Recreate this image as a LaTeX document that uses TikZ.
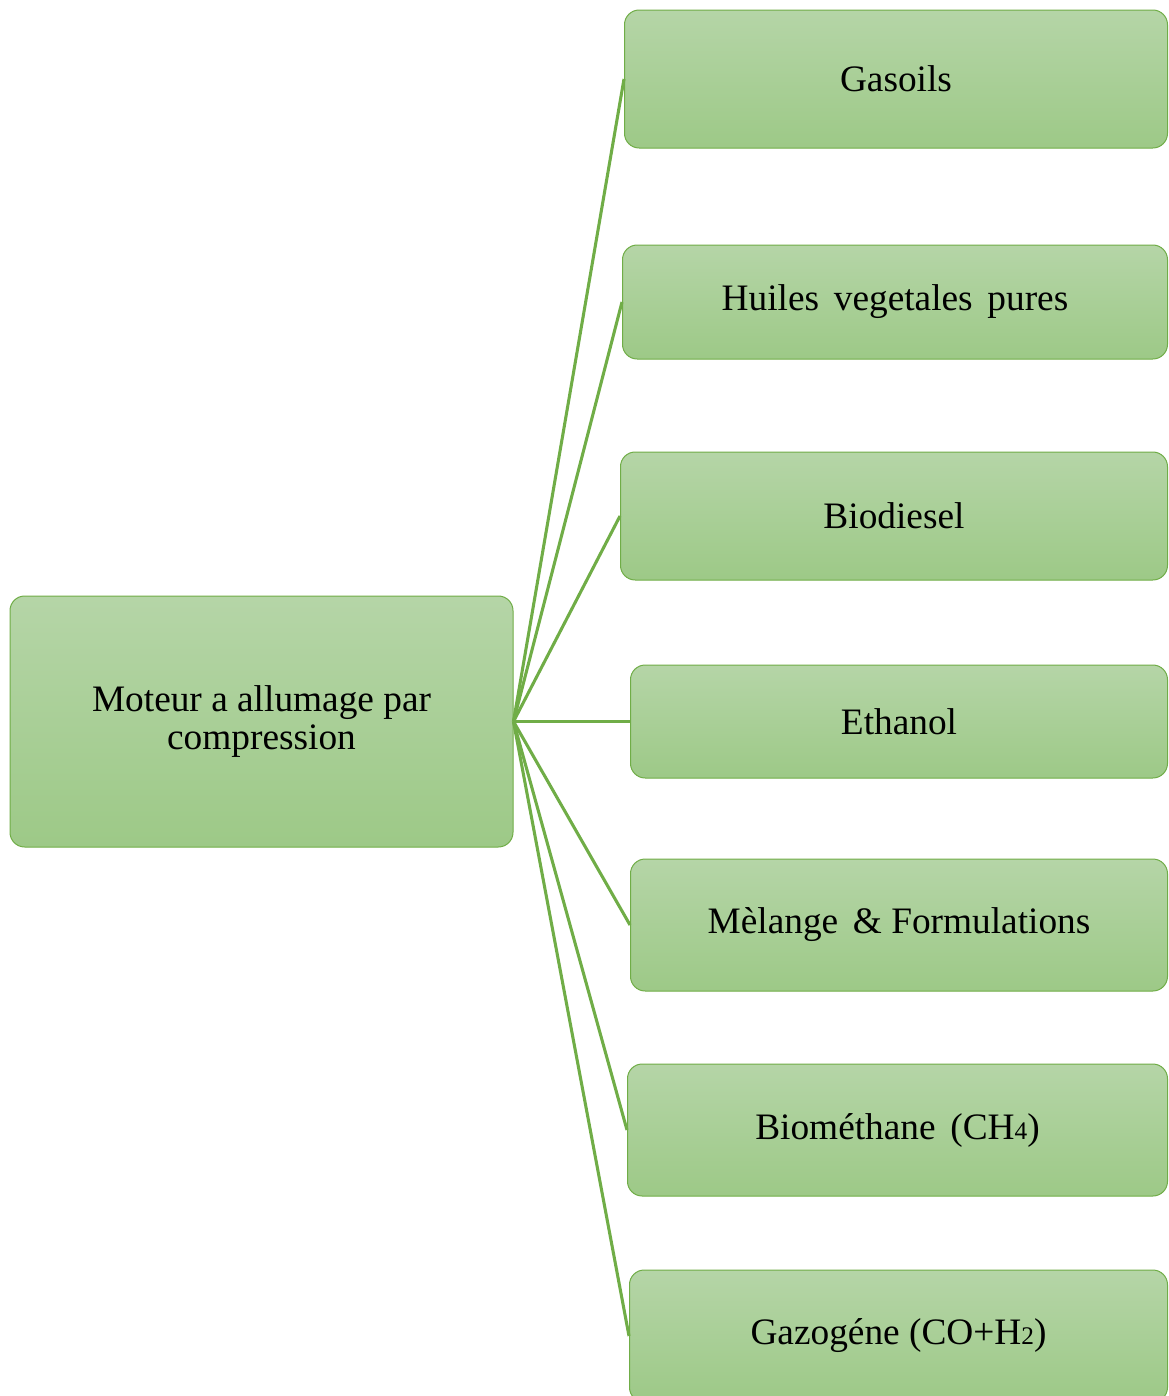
\documentclass[tikz,border=0pt]{standalone}
\usepackage{fontspec}
\setmainfont{Liberation Serif}
\definecolor{boxtop}{HTML}{B5D5A7}
\definecolor{boxbot}{HTML}{9DC987}
\definecolor{boxline}{HTML}{70AD47}
\newcommand{\sm}[1]{{\fontsize{19}{19}\selectfont #1}}

\begin{document}
\begin{tikzpicture}[x=0.75pt,y=0.75pt,
    fuelbox/.style={draw=boxline,line width=0.75pt,rounded corners=11pt,
      top color=boxtop,bottom color=boxbot,align=center,
      font=\fontsize{28}{29}\selectfont,inner sep=0pt},
    link/.style={draw=boxline,line width=2.3pt}]

    \useasboundingbox (0,0) rectangle (1168,-1396);

    \node [fuelbox,minimum width=503*0.75pt,minimum height=251*0.75pt] (engine) at (261.5,-721.5) {Moteur a allumage par\\compression};

    \node [fuelbox,minimum width=543*0.75pt,minimum height=138*0.75pt] (gasoil) at (896,-79) {Gasoils};
    \node [fuelbox,minimum width=545*0.75pt,minimum height=114*0.75pt] (huile) at (895,-302) {Huiles\hspace{4pt} vegetales\hspace{4pt} pures};
    \node [fuelbox,minimum width=547*0.75pt,minimum height=128*0.75pt] (biodiesel) at (894,-516) {Biodiesel};
    \node [fuelbox,minimum width=537*0.75pt,minimum height=113*0.75pt] (ethanol) at (899,-721.5) {Ethanol};
    \node [fuelbox,minimum width=537*0.75pt,minimum height=132*0.75pt] (melange) at (899,-925) {Mèlange\hspace{4pt} \& Formulations};
    \node [fuelbox,minimum width=540*0.75pt,minimum height=132*0.75pt] (biomethane) at (897.5,-1130) {Biométhane\hspace{4pt} (CH\sm{4})};
    \node [fuelbox,minimum width=538*0.75pt,minimum height=132*0.75pt] (gazogene) at (898.5,-1336) {Gazogéne (CO+H\sm{2})};

    \draw [link] (engine.east) -- (gasoil.west);
    \draw [link] (engine.east) -- (huile.west);
    \draw [link] (engine.east) -- (biodiesel.west);
    \draw [link] (engine.east) -- (ethanol.west);
    \draw [link] (engine.east) -- (melange.west);
    \draw [link] (engine.east) -- (biomethane.west);
    \draw [link] (engine.east) -- (gazogene.west);

\end{tikzpicture}
\end{document}
